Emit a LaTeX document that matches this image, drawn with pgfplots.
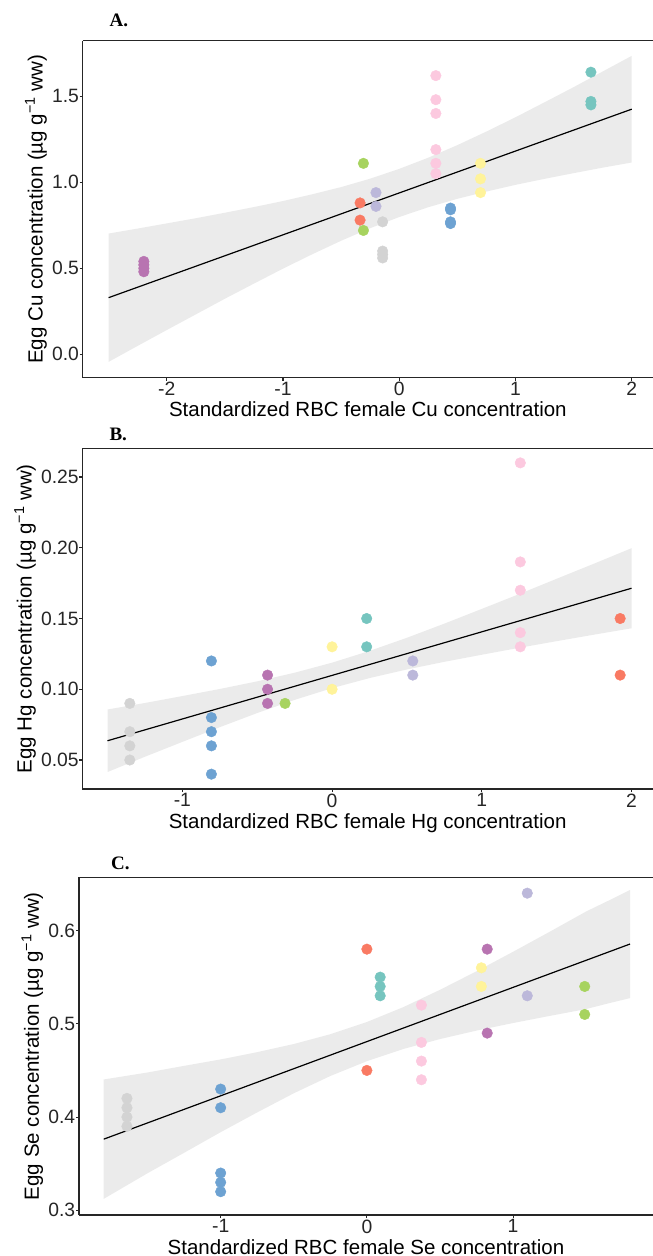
\documentclass[border=0pt]{standalone}
\usepackage{fontspec}
\setmainfont{Liberation Sans}
\newfontfamily\serifbold{Liberation Serif}[BoldFont={Liberation Serif Bold}]
\usepackage{pgfplots}
\pgfplotsset{compat=1.18}

\definecolor{cteal}{HTML}{76C5BF}
\definecolor{cyellow}{HTML}{FFF39A}
\definecolor{clav}{HTML}{BCB8DA}
\definecolor{cred}{HTML}{F97A63}
\definecolor{cblue}{HTML}{6DA2D2}
\definecolor{cgreen}{HTML}{A7D35F}
\definecolor{cpink}{HTML}{FCC9DF}
\definecolor{cgray}{HTML}{D3D3D3}
\definecolor{cpurple}{HTML}{B874B1}
\definecolor{band}{HTML}{EBEBEB}
\definecolor{axisc}{HTML}{262626}

\pgfplotsset{
  panel/.style={
    scale only axis, width=570.3pt, height=337pt,
    axis lines=left, axis line style={-, line width=1.1pt, axisc},
    tick align=outside, major tick length=3pt,
    tick style={line width=1.1pt, axisc},
    every tick label/.append style={font=\fontsize{19.3}{22}\selectfont, text=axisc},
    xticklabel style={inner sep=1.4pt},
    yticklabel style={inner sep=0.6pt},
    label style={font=\fontsize{20.5}{24}\selectfont, text=black},
    xlabel style={inner sep=4.3pt},
    ylabel style={inner sep=4.5pt},
    clip=false,
  },
  dots/.style={only marks, mark=*, mark size=5.3pt, color=#1},
  fit/.style={black, line width=1.2pt, no marks},
  ci/.style={fill=band, draw=none},
}

\begin{document}
\begin{tikzpicture}
\path[use as bounding box] (0pt,0pt) rectangle (653pt,-1256pt);

% ---------------- A: Cu
\node[anchor=base west, font=\serifbold\bfseries\fontsize{19}{22}\selectfont] at (106pt,-26.7pt) {A.};
\begin{axis}[panel, at={(82.7pt,-40.7pt)}, anchor=north west,
  xmin=-2.723, xmax=2.183, ymin=-0.136, ymax=1.823,
  xtick={-2,-1,0,1,2}, xticklabels={-2,-1,0,1,2},
  ytick={0,0.5,1,1.5}, yticklabels={0.0,0.5,1.0,1.5},
  xlabel={Standardized RBC female Cu concentration},
  ylabel={Egg Cu concentration (µg g\textsuperscript{−1} ww)}]
\addplot[ci] coordinates {(-2.5,0.702) (-2.25,0.731) (-2,0.761) (-1.75,0.791) (-1.5,0.823) (-1.25,0.856) (-1,0.891) (-0.75,0.930)
  (-0.5,0.972) (-0.25,1.021) (0,1.078) (0.25,1.143) (0.5,1.216) (0.75,1.295) (1,1.378) (1.25,1.465) (1.5,1.553) (1.75,1.644) (2,1.735)
  (2,1.115) (1.75,1.085) (1.5,1.053) (1.25,1.020) (1,0.985) (0.75,0.946) (0.5,0.904) (0.25,0.855) (0,0.798) (-0.25,0.733)
  (-0.5,0.660) (-0.75,0.581) (-1,0.498) (-1.25,0.411) (-1.5,0.323) (-1.75,0.232) (-2,0.141) (-2.25,0.049) (-2.5,-0.044)} -- cycle;
\addplot[dots=cpurple] coordinates {(-2.197,0.48) (-2.197,0.50) (-2.197,0.52) (-2.197,0.54)};
\addplot[dots=cred] coordinates {(-0.337,0.88) (-0.337,0.78)};
\addplot[dots=cgreen] coordinates {(-0.308,1.11) (-0.308,0.72)};
\addplot[dots=clav] coordinates {(-0.200,0.94) (-0.200,0.86)};
\addplot[dots=cgray] coordinates {(-0.143,0.77) (-0.143,0.60) (-0.143,0.58) (-0.143,0.56)};
\addplot[dots=cpink] coordinates {(0.315,1.62) (0.315,1.48) (0.315,1.40) (0.315,1.19) (0.315,1.11) (0.315,1.05)};
\addplot[dots=cblue] coordinates {(0.441,0.85) (0.441,0.84) (0.441,0.77) (0.441,0.76)};
\addplot[dots=cyellow] coordinates {(0.699,1.11) (0.699,1.02) (0.699,0.94)};
\addplot[dots=cteal] coordinates {(1.649,1.64) (1.649,1.47) (1.649,1.45)};
\addplot[fit] coordinates {(-2.5,0.3293) (2,1.425)};
\draw[line width=1.5pt, axisc] (rel axis cs:0,1) -- (rel axis cs:1,1);
\end{axis}

% ---------------- B: Hg
\node[anchor=base west, font=\serifbold\bfseries\fontsize{19}{22}\selectfont] at (106pt,-440.7pt) {B.};
\begin{axis}[panel, at={(82.5pt,-448.3pt)}, anchor=north west, height=340.7pt,
  xmin=-1.667, xmax=2.142, ymin=0.0295, ymax=0.2703,
  xtick={-1,0,1,2}, xticklabels={-1,0,1,2},
  ytick={0.05,0.10,0.15,0.20,0.25}, yticklabels={0.05,0.10,0.15,0.20,0.25},
  xlabel={Standardized RBC female Hg concentration},
  ylabel={Egg Hg concentration (µg g\textsuperscript{−1} ww)}]
\addplot[ci] coordinates {(-1.5,0.0857) (-1.25,0.0903) (-1,0.0952) (-0.75,0.1002) (-0.5,0.1056) (-0.25,0.1117) (0,0.1188)
  (0.25,0.1271) (0.5,0.1364) (0.75,0.1464) (1,0.1568) (1.25,0.1673) (1.5,0.1781) (1.75,0.1888) (2,0.1997)
  (2,0.1431) (1.75,0.1386) (1.5,0.1340) (1.25,0.1293) (1,0.1244) (0.75,0.1194) (0.5,0.1140) (0.25,0.1079) (0,0.1008)
  (-0.25,0.0925) (-0.5,0.0832) (-0.75,0.0732) (-1,0.0628) (-1.25,0.0523) (-1.5,0.0415)} -- cycle;
\addplot[dots=cgray] coordinates {(-1.351,0.09) (-1.351,0.07) (-1.351,0.06) (-1.351,0.05)};
\addplot[dots=cblue] coordinates {(-0.806,0.12) (-0.806,0.08) (-0.806,0.07) (-0.806,0.06) (-0.806,0.04)};
\addplot[dots=cpurple] coordinates {(-0.431,0.11) (-0.431,0.10) (-0.431,0.09)};
\addplot[dots=cgreen] coordinates {(-0.314,0.09)};
\addplot[dots=cyellow] coordinates {(0,0.13) (0,0.10)};
\addplot[dots=cteal] coordinates {(0.231,0.15) (0.231,0.13)};
\addplot[dots=clav] coordinates {(0.539,0.12) (0.539,0.11)};
\addplot[dots=cpink] coordinates {(1.257,0.26) (1.257,0.19) (1.257,0.17) (1.257,0.14) (1.257,0.13)};
\addplot[dots=cred] coordinates {(1.924,0.15) (1.924,0.11)};
\addplot[fit] coordinates {(-1.5,0.0636) (2,0.1714)};
\draw[line width=1.5pt, axisc] (rel axis cs:0,1) -- (rel axis cs:1,1);
\end{axis}

% ---------------- C: Se
\node[anchor=base west, font=\serifbold\bfseries\fontsize{19}{22}\selectfont] at (107.5pt,-869.3pt) {C.};
\begin{axis}[panel, at={(79pt,-877.3pt)}, anchor=north west, width=574pt, height=337.7pt,
  xmin=-1.969, xmax=1.957, ymin=0.295, ymax=0.657,
  xtick={-1,0,1}, xticklabels={-1,0,1},
  ytick={0.3,0.4,0.5,0.6}, yticklabels={0.3,0.4,0.5,0.6},
  xlabel={Standardized RBC female Se concentration},
  ylabel={Egg Se concentration (µg g\textsuperscript{−1} ww)}]
\addplot[ci] coordinates {(-1.8,0.4403) (-1.5,0.4478) (-1.25,0.4549) (-1,0.4618) (-0.75,0.4696) (-0.5,0.4783) (-0.25,0.4888)
  (0,0.5019) (0.25,0.5179) (0.5,0.5364) (0.75,0.5563) (1,0.5772) (1.25,0.5986) (1.5,0.6204) (1.65,0.6318) (1.8,0.6435)
  (1.8,0.5275) (1.65,0.5218) (1.5,0.5158) (1.25,0.5084) (1,0.5008) (0.75,0.4927) (0.5,0.4836) (0.25,0.4730) (0,0.4599)
  (-0.25,0.4440) (-0.5,0.4255) (-0.75,0.4050) (-1,0.3838) (-1.25,0.3617) (-1.5,0.3398) (-1.8,0.3123)} -- cycle;
\addplot[dots=cgray] coordinates {(-1.641,0.42) (-1.641,0.41) (-1.641,0.40) (-1.641,0.39)};
\addplot[dots=cblue] coordinates {(-1,0.43) (-1,0.41) (-1,0.34) (-1,0.33) (-1,0.32)};
\addplot[dots=cred] coordinates {(0,0.58) (0,0.45)};
\addplot[dots=cteal] coordinates {(0.091,0.55) (0.091,0.54) (0.091,0.53)};
\addplot[dots=cpink] coordinates {(0.373,0.52) (0.373,0.48) (0.373,0.46) (0.373,0.44)};
\addplot[dots=cyellow] coordinates {(0.783,0.56) (0.783,0.54)};
\addplot[dots=cpurple] coordinates {(0.823,0.58) (0.823,0.49)};
\addplot[dots=clav] coordinates {(1.097,0.64) (1.097,0.53)};
\addplot[dots=cgreen] coordinates {(1.49,0.54) (1.49,0.51)};
\addplot[fit] coordinates {(-1.8,0.3763) (1.8,0.5855)};
\draw[line width=1.5pt, axisc] (rel axis cs:0,1) -- (rel axis cs:1,1);
\end{axis}
\end{tikzpicture}
\end{document}
